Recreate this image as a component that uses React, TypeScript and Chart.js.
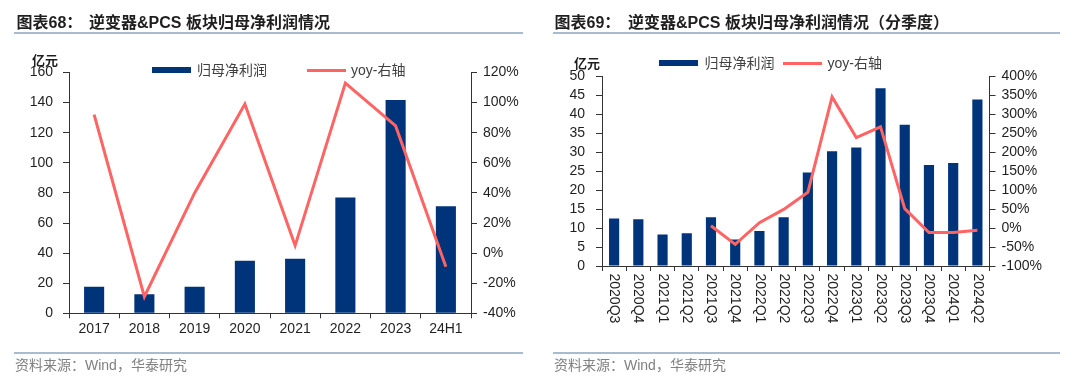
import React, { useEffect, useRef } from 'react';
import { Chart, registerables } from 'chart.js';

Chart.register(...registerables);

// ---------- data ----------
const annualCategories = ['2017', '2018', '2019', '2020', '2021', '2022', '2023', '24H1'];
const annualProfit = [17.7, 12.6, 17.7, 35.0, 36.3, 77.0, 141.8, 71.2];
const annualYoy = [92, -29, 40, 99, 5, 113, 84.5, -9];
const annualLeftTicks = [0, 20, 40, 60, 80, 100, 120, 140, 160];
const annualRightTicks = [-40, -20, 0, 20, 40, 60, 80, 100, 120];

const quarterCategories = [
  '2020Q3', '2020Q4', '2021Q1', '2021Q2', '2021Q3', '2021Q4', '2022Q1', '2022Q2',
  '2022Q3', '2022Q4', '2023Q1', '2023Q2', '2023Q3', '2023Q4', '2024Q1', '2024Q2',
];
const quarterProfit = [12.5, 12.3, 8.3, 8.6, 12.8, 7.0, 9.2, 12.8, 24.6, 30.2, 31.2, 46.8, 37.2, 26.6, 27.1, 43.8];
const quarterYoy = [null, null, null, null, 6, -43, 14, 49, 94, 345, 238, 266, 51, -12, -12, -6];
const quarterLeftTicks = [0, 5, 10, 15, 20, 25, 30, 35, 40, 45, 50];
const quarterRightTicks = [-100, -50, 0, 50, 100, 150, 200, 250, 300, 350, 400];

const seriesBarName = '归母净利润';
const seriesLineName = 'yoy-右轴';

// ---------- style ----------
const FONT = '"Liberation Sans", "Noto Sans CJK SC", Arial, sans-serif';
const NAVY = '#00347A';
const RED = '#FF6464';
const AXIS = '#333333';
const TEXT = '#1f1f1f';
const RULE = '#A9BBCF';

const tickFont = { family: FONT, size: 14 };

function setTicks(values: number[]) {
  return (s: any) => {
    s.ticks = values.map((v) => ({ value: v }));
  };
}

function yScale(values: number[], position: string, width: number, padding: number, pct: boolean) {
  return {
    position,
    min: values[0],
    max: values[values.length - 1],
    afterBuildTicks: setTicks(values),
    grid: { drawOnChartArea: false, tickLength: 6, color: AXIS, drawTicks: true },
    border: { color: AXIS, width: 1 },
    ticks: {
      font: tickFont,
      color: TEXT,
      padding,
      autoSkip: false,
      callback: (v: any) => (pct ? `${v}%` : `${v}`),
    },
    afterFit: (s: any) => {
      s.width = width;
    },
  };
}

function buildConfig(opts: {
  labels: string[];
  bars: number[];
  line: (number | null)[];
  leftTicks: number[];
  rightTicks: number[];
  top: number;
  bottomHeight: number;
  leftWidth: number;
  rightWidth: number;
  leftPad: number;
  rightPad: number;
  barPct: number;
  showX: boolean;
  plugins: any[];
}) {
  return {
    type: 'bar',
    data: {
      labels: opts.labels,
      datasets: [
        {
          type: 'line',
          label: seriesLineName,
          data: opts.line,
          yAxisID: 'y1',
          borderColor: RED,
          backgroundColor: RED,
          borderWidth: 3,
          pointRadius: 0,
          pointHoverRadius: 0,
          tension: 0,
          fill: false,
          spanGaps: false,
          order: 0,
        },
        {
          type: 'bar',
          label: seriesBarName,
          data: opts.bars,
          yAxisID: 'y',
          backgroundColor: NAVY,
          borderWidth: 0,
          barPercentage: opts.barPct,
          categoryPercentage: 1,
          order: 1,
        },
      ],
    },
    options: {
      animation: false,
      responsive: false,
      devicePixelRatio: 1,
      layout: { padding: { top: opts.top, left: 0, right: 0, bottom: 0 } },
      plugins: { legend: { display: false }, tooltip: { enabled: false } },
      scales: {
        x: {
          offset: true,
          grid: { offset: true, drawOnChartArea: false, tickLength: 5, color: AXIS },
          border: { color: AXIS, width: 1 },
          ticks: {
            display: opts.showX,
            font: tickFont,
            color: TEXT,
            padding: 2,
            maxRotation: 0,
            minRotation: 0,
            autoSkip: false,
          },
          afterFit: (s: any) => {
            s.height = opts.bottomHeight;
          },
        },
        y: yScale(opts.leftTicks, 'left', opts.leftWidth, opts.leftPad, false),
        y1: yScale(opts.rightTicks, 'right', opts.rightWidth, opts.rightPad, true),
      },
    },
    plugins: opts.plugins,
  } as any;
}

const verticalLabels = {
  id: 'verticalLabels',
  afterDraw(chart: any) {
    const xs = chart.scales.x;
    const ctx = chart.ctx;
    ctx.save();
    ctx.font = `14px ${FONT}`;
    ctx.fillStyle = TEXT;
    ctx.textAlign = 'left';
    ctx.textBaseline = 'middle';
    quarterCategories.forEach((lab, i) => {
      const x = xs.getPixelForValue(i);
      const y = xs.top + 7.5;
      ctx.save();
      ctx.translate(x, y);
      ctx.rotate(Math.PI / 2);
      ctx.fillText(lab, 0, 0);
      ctx.restore();
    });
    ctx.restore();
  },
};

// ---------- html text helpers ----------
function Txt(props: {
  x: number;
  cy: number;
  size: number;
  bold?: boolean;
  color?: string;
  children: any;
}) {
  const { x, cy, size, bold, color, children } = props;
  return (
    <div
      style={{
        position: 'absolute',
        left: x,
        top: cy - size / 2,
        height: size,
        lineHeight: `${size}px`,
        fontSize: size,
        fontFamily: FONT,
        fontWeight: bold ? 700 : 400,
        color: color || TEXT,
        whiteSpace: 'nowrap',
      }}
    >
      {children}
    </div>
  );
}

function Box(props: { x: number; y: number; w: number; h: number; c: string }) {
  return (
    <div
      style={{
        position: 'absolute',
        left: props.x,
        top: props.y,
        width: props.w,
        height: props.h,
        background: props.c,
      }}
    />
  );
}

export default function App() {
  const leftRef = useRef<HTMLCanvasElement>(null);
  const rightRef = useRef<HTMLCanvasElement>(null);

  useEffect(() => {
    const c1 = new Chart(
      leftRef.current as HTMLCanvasElement,
      buildConfig({
        labels: annualCategories,
        bars: annualProfit,
        line: annualYoy,
        leftTicks: annualLeftTicks,
        rightTicks: annualRightTicks,
        top: 72.5,
        bottomHeight: 387 - 313.3,
        leftWidth: 69,
        rightWidth: 540 - 471,
        leftPad: 10,
        rightPad: 6,
        barPct: 0.4,
        showX: true,
        plugins: [],
      })
    );
    const c2 = new Chart(
      rightRef.current as HTMLCanvasElement,
      buildConfig({
        labels: quarterCategories,
        bars: quarterProfit,
        line: quarterYoy,
        leftTicks: quarterLeftTicks,
        rightTicks: quarterRightTicks,
        top: 76,
        bottomHeight: 387 - 266,
        leftWidth: 62,
        rightWidth: 540 - 449.5,
        leftPad: 11,
        rightPad: 6,
        barPct: 0.42,
        showX: false,
        plugins: [verticalLabels],
      })
    );
    return () => {
      c1.destroy();
      c2.destroy();
    };
  }, []);

  return (
    <div
      style={{
        position: 'fixed',
        left: 0,
        top: 0,
        width: 1080,
        height: 387,
        background: '#ffffff',
        overflow: 'hidden',
      }}
    >
      <canvas
        ref={leftRef}
        width={540}
        height={387}
        style={{ position: 'absolute', left: 0, top: 0, width: 540, height: 387, display: 'block' }}
      />
      <canvas
        ref={rightRef}
        width={540}
        height={387}
        style={{ position: 'absolute', left: 540, top: 0, width: 540, height: 387, display: 'block' }}
      />

      {/* left panel */}
      <Txt x={16.5} cy={23} size={16} bold>图表68：</Txt>
      <Txt x={89} cy={23} size={16} bold>逆变器&amp;PCS 板块归母净利润情况</Txt>
      <Box x={14} y={32} w={509} h={2} c={RULE} />
      <Txt x={32} cy={60} size={13} bold>亿元</Txt>
      <Box x={151.5} y={67} w={39} h={6} c={NAVY} />
      <Txt x={197} cy={70} size={14} color="#404040">{seriesBarName}</Txt>
      <Box x={306.5} y={68.5} w={39.5} h={3} c={RED} />
      <Txt x={351} cy={70} size={14} color="#404040">{seriesLineName}</Txt>
      <Box x={14} y={352} w={509} h={2} c={RULE} />
      <Txt x={15} cy={365} size={14} color="#808080">资料来源：Wind，华泰研究</Txt>

      {/* right panel */}
      <Txt x={554.5} cy={23} size={16} bold>图表69：</Txt>
      <Txt x={628} cy={23} size={16} bold>逆变器&amp;PCS 板块归母净利润情况（分季度）</Txt>
      <Box x={553} y={32} w={507} h={2} c={RULE} />
      <Txt x={574} cy={63} size={13} bold>亿元</Txt>
      <Box x={659} y={60.3} w={39} h={6} c={NAVY} />
      <Txt x={704.5} cy={63.3} size={14} color="#404040">{seriesBarName}</Txt>
      <Box x={783} y={61.8} w={39} h={3} c={RED} />
      <Txt x={827.5} cy={63.3} size={14} color="#404040">{seriesLineName}</Txt>
      <Box x={553} y={352} w={507} h={2} c={RULE} />
      <Txt x={554} cy={365} size={14} color="#808080">资料来源：Wind，华泰研究</Txt>
    </div>
  );
}
